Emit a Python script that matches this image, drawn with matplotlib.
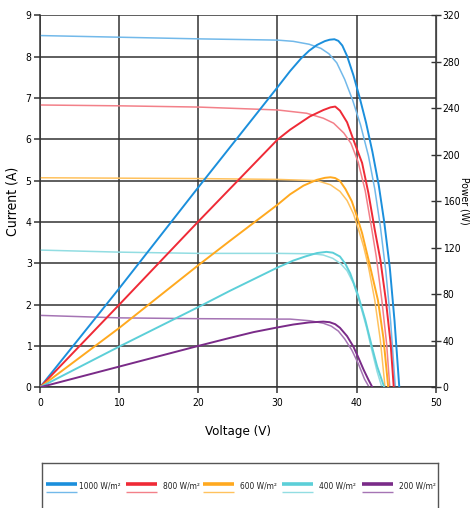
import matplotlib
matplotlib.use("Agg")
import matplotlib.pyplot as plt

plt.rcParams['font.family'] = ['DejaVu Sans']
plt.rcParams['font.stretch'] = 'condensed'

# irradiance levels
niveis = ["1000 W/m²", "800 W/m²", "600 W/m²", "400 W/m²", "200 W/m²"]
cor_p = ["#1b8fdc", "#ef2a36", "#ffa91f", "#5ccfd8", "#7a2b88"]   # power (dark)
cor_i = ["#72b9ea", "#f38089", "#ffc25e", "#92dde2", "#a574b4"]   # current (light)

# I-V curves (current, A)
v_i1000 = [0, 10, 20, 30, 32, 34, 35.5, 36.5, 37.5, 38.5, 39.5, 40.5, 41.5, 42.3, 43.0, 43.7, 44.3, 44.9]
i_1000 = [8.51, 8.47, 8.43, 8.40, 8.37, 8.30, 8.20, 8.07, 7.85, 7.45, 6.95, 6.35, 5.6, 4.8, 3.9, 2.8, 1.6, 0]
v_i800 = [0, 10, 20, 30, 33.7, 35.8, 37.1, 38.4, 39.3, 40.2, 41.1, 41.9, 42.5, 43.2, 43.8, 44.2]
i_800 = [6.83, 6.81, 6.78, 6.71, 6.63, 6.51, 6.39, 6.15, 5.90, 5.45, 4.75, 3.85, 3.15, 2.1, 1.05, 0]
v_i600 = [0, 10, 20, 30, 31.6, 35, 36.7, 37.9, 38.8, 39.6, 40.2, 40.9, 41.5, 42.3, 43.0, 43.6]
i_600 = [5.07, 5.06, 5.05, 5.03, 5.02, 5.0, 4.90, 4.74, 4.52, 4.20, 3.85, 3.40, 2.92, 2.11, 1.15, 0]
v_i400 = [0, 10, 20, 30, 34.5, 35.8, 37.0, 38.0, 38.8, 39.6, 40.4, 41.3, 41.9, 42.6, 43.2]
i_400 = [3.32, 3.27, 3.24, 3.24, 3.23, 3.20, 3.12, 2.99, 2.82, 2.52, 2.05, 1.42, 0.92, 0.38, 0]
v_i200 = [0, 10, 20, 30, 31.6, 34.1, 35.8, 36.8, 37.7, 38.5, 39.4, 40.2, 41.0, 41.6]
i_200 = [1.74, 1.68, 1.66, 1.65, 1.65, 1.61, 1.55, 1.48, 1.36, 1.17, 0.90, 0.58, 0.2, 0]

# P-V curves (power, W)
v_p1000 = [0, 10, 20, 25, 30, 31.6, 33, 34, 35, 36, 36.6, 37.2, 37.7, 38.2, 38.8, 39.6, 40.4, 41.2, 42.0, 42.8, 43.5, 44.2, 44.8, 45.4]
p_1000 = [0, 85, 172, 215, 258, 272, 283, 289.5, 294.5, 297.8, 299, 299.4, 298, 294, 285, 268.5, 249, 227.6, 202.7, 174, 142, 103, 57, 0]
v_p800 = [0, 10, 20, 30, 31.6, 33, 34.1, 35.8, 36.7, 37.3, 37.9, 38.8, 39.6, 40.7, 41.5, 42.3, 43.0, 43.7, 44.3, 44.7]
p_800 = [0, 71, 142.6, 213, 221.6, 228, 233, 238.5, 240.8, 241.5, 238, 228, 213, 193, 167, 135.5, 110, 75, 38, 0]
v_p600 = [0, 10, 20, 24, 30, 31.6, 33.3, 35, 36.0, 36.7, 37.3, 37.9, 38.6, 39.4, 40.0, 40.7, 41.5, 42.7, 43.4, 44.0]
p_600 = [0, 51, 105, 126, 157, 166, 173.5, 178.5, 180.2, 180.7, 180, 177.5, 170.5, 160, 148, 132.6, 110, 75, 42, 0]
v_p400 = [0, 10, 20, 24, 30, 32, 33.5, 35, 36.2, 37.0, 37.9, 38.6, 39.2, 40.2, 41.1, 41.9, 42.6, 43.5]
p_400 = [0, 35, 69, 83, 103, 109, 112.5, 115.5, 116.5, 115.8, 112.5, 106, 98, 79, 58, 36, 18, 0]
v_p200 = [0, 10, 20, 24, 27, 30, 32, 34, 35.8, 36.6, 37.3, 37.9, 38.8, 39.6, 40.2, 40.9, 41.5, 42.0]
p_200 = [0, 17.8, 35.6, 42.5, 47.5, 51.5, 54, 55.8, 56.5, 56, 54.3, 51.2, 44, 35, 26, 15, 6.5, 0]

curvas_i = [(v_i1000, i_1000), (v_i800, i_800), (v_i600, i_600), (v_i400, i_400), (v_i200, i_200)]
curvas_p = [(v_p1000, p_1000), (v_p800, p_800), (v_p600, p_600), (v_p400, p_400), (v_p200, p_200)]

W, H = 471, 508
fig = plt.figure(figsize=(W / 100, H / 100), dpi=100)
ax = fig.add_axes([40 / W, 1 - 387.3 / H, 395.7 / W, 372 / H])
ax.set_xlim(0, 50)
ax.set_ylim(0, 9)
ax.set_xticks(range(0, 51, 10))
ax.set_yticks(range(0, 10))
ax.grid(True, color="#333333", linewidth=1.1)
ax.set_axisbelow(True)
ax.spines["top"].set_visible(False)
for s in ["left", "bottom"]:
    ax.spines[s].set_color("#333333")
    ax.spines[s].set_linewidth(1.1)
ax.spines["right"].set_color("#444444")
ax.spines["right"].set_linewidth(0.8)
ax.tick_params(axis="y", direction="out", length=4, width=1.1, color="#333333",
               right=True, labelright=False, labelsize=7.5, pad=2)
ax.tick_params(axis="x", direction="out", length=4, width=1.1, color="#333333",
               labelsize=7.5, pad=4)
ax.set_xlabel("Voltage (V)", fontsize=9.5, labelpad=12)
ax.set_ylabel("Current (A)", fontsize=10, va="center", ha="center")
ax.yaxis.set_label_coords(-27 / 395.7, 0.5)

for (v, i), c in zip(curvas_i, cor_i):
    ax.plot(v, i, color=c, linewidth=1.1, solid_capstyle="round")

ax2 = ax.twinx()
ax2.set_ylim(0, 320)
ax2.set_yticks(range(0, 321, 40))
ax2.tick_params(axis="y", direction="inout", length=7, width=1, color="#333333",
                labelsize=7.5, pad=1.5)
for s in ["top", "left", "bottom"]:
    ax2.spines[s].set_visible(False)
ax2.spines["right"].set_color("#444444")
ax2.spines["right"].set_linewidth(0.8)
ax2.set_ylabel("Power (W)", fontsize=7.5, rotation=-90, va="center", ha="center")
ax2.yaxis.set_label_coords(1 + 29 / 395.7, 0.5)

for (v, p), c in zip(curvas_p, cor_p):
    ax2.plot(v, p, color=c, linewidth=1.4, solid_capstyle="round")

# legenda desenhada a mao (linha grossa = potencia, fina = corrente)
lg = fig.add_axes([42 / W, 0, 396 / W, 45 / H])
lg.set_xlim(42, 438)
lg.set_ylim(508, 463)
lg.set_xticks([])
lg.set_yticks([])
lg.spines["bottom"].set_visible(False)
for s in ["top", "left", "right"]:
    lg.spines[s].set_color("#555555")
    lg.spines[s].set_linewidth(1)
pos_x = [46, 126, 203, 282, 362]
for x0, nome, cp, ci in zip(pos_x, niveis, cor_p, cor_i):
    lg.plot([x0, x0 + 31], [484, 484], color=cp, linewidth=2.6, solid_capstyle="butt")
    lg.plot([x0, x0 + 31], [492, 492], color=ci, linewidth=1.0, solid_capstyle="butt")
    dx = 2 if nome.startswith("1000") else 6
    lg.text(x0 + 31 + dx, 486.5, nome, fontsize=6, va="center", ha="left", color="#222222")

fig.savefig("out.png", dpi=100)
